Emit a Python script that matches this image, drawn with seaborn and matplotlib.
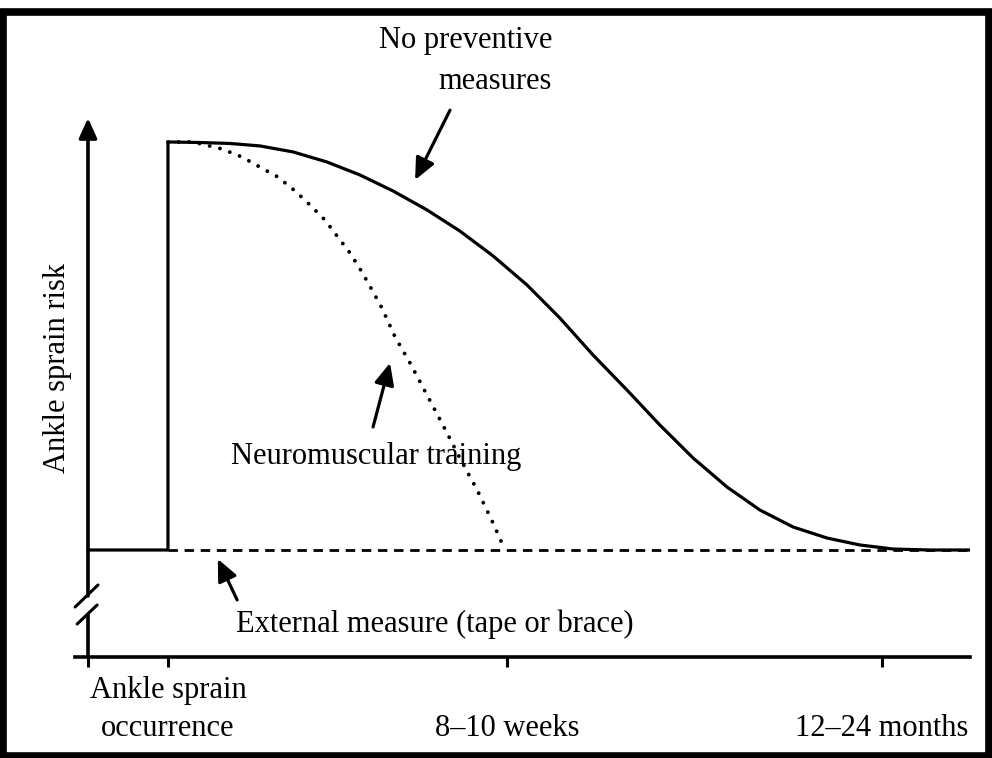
import numpy as np
import pandas as pd
import matplotlib.pyplot as plt
import matplotlib.patches as mpatches
import seaborn as sns

sns.set_theme(style="white")
plt.rcParams['font.family'] = ['Liberation Serif', 'DejaVu Serif']
plt.rcParams['text.color'] = 'black'

# ── Data ───────────────────────────────────────────────────────────────────────
# x: 0 = sprain occurrence, 1 = 8-10 weeks, 2.106 = 12-24 months (schematic units)
# y: 1 = baseline risk before the sprain
x_axis_start = -0.236
x_axis_end = 2.366
baseline_risk = 1.0
tick_pos = [x_axis_start, 0.0, 1.0, 2.106]

# no preventive measures (solid)
no_prev_x = [0.000, 0.094, 0.183, 0.271, 0.369, 0.469, 0.566, 0.664, 0.764, 0.861,
             0.959, 1.059, 1.156, 1.254, 1.354, 1.451, 1.549, 1.649, 1.746, 1.844,
             1.944, 2.041, 2.139, 2.248]
no_prev_y = [4.813, 4.808, 4.799, 4.776, 4.720, 4.626, 4.505, 4.355, 4.178, 3.981,
             3.748, 3.477, 3.168, 2.822, 2.495, 2.168, 1.860, 1.589, 1.374, 1.215,
             1.112, 1.047, 1.009, 1.000]

# neuromuscular training (dotted)
nm_x = [0.000, 0.074, 0.159, 0.218, 0.271, 0.324, 0.375, 0.419, 0.463, 0.501,
        0.537, 0.572, 0.602, 0.631, 0.670, 0.714, 0.764, 0.811, 0.861, 0.912,
        0.959, 0.994]
nm_y = [4.813, 4.813, 4.748, 4.673, 4.579, 4.486, 4.355, 4.224, 4.084, 3.925,
        3.776, 3.598, 3.430, 3.262, 2.991, 2.748, 2.449, 2.168, 1.860, 1.561,
        1.252, 1.000]

# external measure (dashed): stays at baseline
ext_x = [0.0, x_axis_end]
ext_y = [baseline_risk, baseline_risk]

tick_labels = ["Ankle sprain\noccurrence", "8\u201310 weeks", "12\u201324 months"]

# solid curve also runs along the baseline before the sprain and after recovery
solid_df = pd.DataFrame({
    "x": [x_axis_start, 0.0] + no_prev_x + [x_axis_end],
    "risk": [baseline_risk, baseline_risk] + no_prev_y + [baseline_risk],
})
nm_df = pd.DataFrame({"x": nm_x, "risk": nm_y})
ext_df = pd.DataFrame({"x": ext_x, "risk": ext_y})

# ── Figure ─────────────────────────────────────────────────────────────────────
fig = plt.figure(figsize=(9.92, 7.58), dpi=100)
ax = fig.add_axes([75 / 992, 101 / 758, 895 / 992, 539 / 758])
ax.set_xlim(-0.2743, x_axis_end)
ax.set_ylim(0, 5.037)

sns.lineplot(data=solid_df, x="x", y="risk", ax=ax, sort=False, estimator=None,
             color="black", linewidth=2.3, solid_joinstyle="round")
sns.lineplot(data=ext_df, x="x", y="risk", ax=ax, sort=False, estimator=None,
             color="black", linewidth=2.0, linestyle=(0, (3.4, 2.4)))
sns.lineplot(data=nm_df, x="x", y="risk", ax=ax, sort=False, estimator=None,
             color="black", linewidth=2.8, linestyle=(0, (0.01, 2.7)),
             dash_capstyle="round")

# axes: bottom spine + hand-drawn y axis with break and arrow
for side in ["top", "right", "left"]:
    ax.spines[side].set_visible(False)
ax.spines["bottom"].set_linewidth(2.6)
ax.spines["bottom"].set_color("black")
ax.set_xticks(tick_pos)
ax.set_yticks([])
ax.tick_params(axis="x", direction="out", length=7.5, width=2.2, color="black",
               labelbottom=False, bottom=True)
ax.set_xlabel("")
ax.set_ylabel("")

ax.plot([x_axis_start, x_axis_start], [0, 0.40], color="black", lw=2.6,
        clip_on=False, solid_capstyle="butt")
ax.annotate("", xy=(x_axis_start, 5.037), xytext=(x_axis_start, 0.57),
            arrowprops=dict(arrowstyle="-|>,head_length=1.0,head_width=0.45",
                            color="black", lw=2.6, shrinkA=0, shrinkB=0),
            annotation_clip=False)
ax.plot([-0.274, -0.2065], [0.467, 0.673], color="black", lw=2.2, clip_on=False)
ax.plot([-0.268, -0.209], [0.308, 0.486], color="black", lw=2.2, clip_on=False)

# ── Text & arrows ──────────────────────────────────────────────────────────────
fs = 22
ax.text(1.133, 5.69, "No preventive", fontsize=fs, ha="right", va="baseline")
ax.text(1.133, 5.31, "measures", fontsize=fs, ha="right", va="baseline")
ax.text(0.614, 1.80, "Neuromuscular training", fontsize=fs, ha="center", va="baseline")
ax.text(0.788, 0.234, "External measure (tape or brace)", fontsize=fs,
        ha="center", va="baseline")
ax.text(-0.327, 2.70, "Ankle sprain risk", fontsize=fs, rotation=90,
        ha="center", va="center")

arrow_kw = dict(arrowstyle="-|>,head_length=1.1,head_width=0.5", color="black",
                lw=2.3, shrinkA=0, shrinkB=0)
ax.annotate("", xy=(0.729, 4.458), xytext=(0.832, 5.11), arrowprops=arrow_kw)
ax.annotate("", xy=(0.655, 2.748), xytext=(0.605, 2.150), arrowprops=arrow_kw)
ax.annotate("", xy=(0.147, 0.916), xytext=(0.204, 0.533), arrowprops=arrow_kw)

ax.text(tick_pos[1], -0.383, tick_labels[0].split("\n")[0], fontsize=fs,
        ha="center", va="baseline")
ax.text(tick_pos[1], -0.738, tick_labels[0].split("\n")[1], fontsize=fs,
        ha="center", va="baseline")
ax.text(tick_pos[2], -0.738, tick_labels[1], fontsize=fs, ha="center", va="baseline")
ax.text(tick_pos[3], -0.738, tick_labels[2], fontsize=fs, ha="center", va="baseline")

# thick black frame around the whole figure
fig.add_artist(mpatches.Rectangle((2.5 / 992, 2.5 / 758), 986 / 992, 744 / 758,
                                  transform=fig.transFigure, fill=False,
                                  lw=5.5, ec="black"))

fig.savefig("out.png", dpi=100)
plt.close(fig)
